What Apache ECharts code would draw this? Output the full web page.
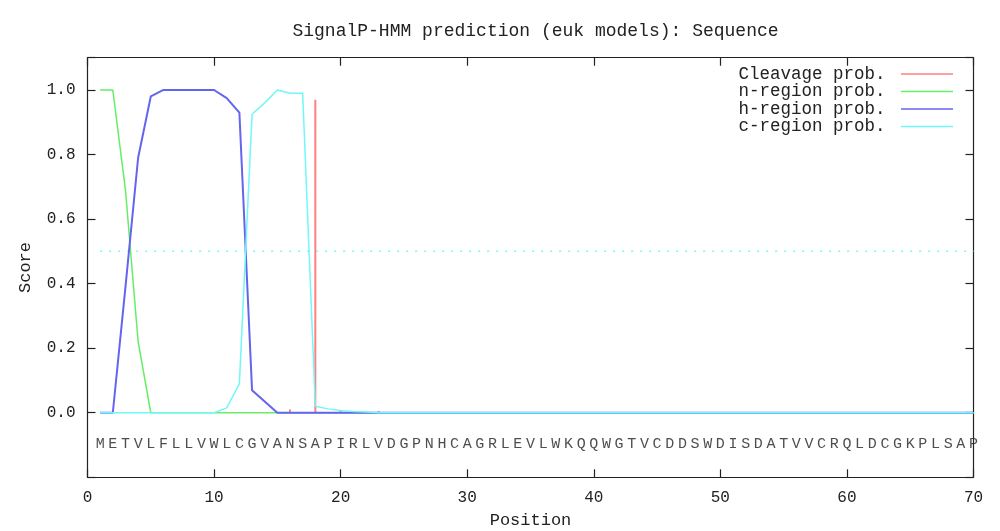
<!DOCTYPE html>
<html>
<head>
<meta charset="utf-8">
<script src="https://cdn.jsdelivr.net/npm/echarts@6/dist/echarts.min.js"></script>
<style>
html,body{margin:0;padding:0;background:#fff;}
#chart{width:1000px;height:531px;}
</style>
</head>
<body>
<div id="chart"></div>
<script>
// ---- data ----
const sequence = "METVLFLLVWLCGVANSAPIRLVDGPNHCAGRLEVLWKQQWGTVCDDSWDISDATVVCRQLDCGKPLSAP".split("");
const positions = sequence.map((_, i) => i + 1);
const cleavageProb = [0,0,0,0,0,0,0,0,0,0,0,0,0,0,0,0.01,0,0.97,0,0.008,0,0,0.005,
  0,0,0,0,0,0,0,0,0,0,0,0,0,0,0,0,0,0,0,0,0,0,0,0,0,0,0,0,0,0,0,0,0,0,0,0,0,0,0,0,0,0,0,0,0,0,0];
const nRegionProb = [1.0,1.0,0.69,0.22,0,0,0,0,0,0,0,0,0,0,0,0,0,0,0,0,0,0,0,
  0,0,0,0,0,0,0,0,0,0,0,0,0,0,0,0,0,0,0,0,0,0,0,0,0,0,0,0,0,0,0,0,0,0,0,0,0,0,0,0,0,0,0,0,0,0,0];
const hRegionProb = [0,0,0.39,0.79,0.98,1.0,1.0,1.0,1.0,1.0,0.975,0.93,0.07,0.035,0,0,0,0,0,0,0,0,0,
  0,0,0,0,0,0,0,0,0,0,0,0,0,0,0,0,0,0,0,0,0,0,0,0,0,0,0,0,0,0,0,0,0,0,0,0,0,0,0,0,0,0,0,0,0,0,0];
const cRegionProb = [0,0,0,0,0,0,0,0,0,0,0.015,0.09,0.925,0.96,1.0,0.99,0.99,0.02,0.012,0.007,0.004,0.002,0,
  0,0,0,0,0,0,0,0,0,0,0,0,0,0,0,0,0,0,0,0,0,0,0,0,0,0,0,0,0,0,0,0,0,0,0,0,0,0,0,0,0,0,0,0,0,0,0];
const thresholdX = [1, 70];
const thresholdY = [0.5, 0.5];
const sequenceRowY = -0.1;
const seriesNames = ["Cleavage prob.", "n-region prob.", "h-region prob.", "c-region prob."];
const titleText = "SignalP-HMM prediction (euk models): Sequence";

// ---- chart ----
const FONT = "Liberation Mono, DejaVu Sans Mono, monospace";
const pairs = (ys) => positions.map((x, i) => [x, ys[i]]);
const axisLineStyle = { color: "#222", width: 1.2 };

const chart = echarts.init(document.getElementById("chart"), null, { renderer: "canvas" });
chart.setOption({
  animation: false,
  backgroundColor: "#fff",
  title: {
    text: titleText, left: 530.5, top: 17, textAlign: "center",
    textStyle: { fontFamily: FONT, fontSize: 18, fontWeight: "normal", color: "#222" }
  },
  legend: {
    data: seriesNames, orient: "vertical", right: 42, top: 60, align: "right",
    icon: "rect", itemWidth: 52, itemHeight: 1.5, itemGap: -0.5,
    formatter: (n) => n + " ",
    textStyle: { fontFamily: FONT, fontSize: 17.5, lineHeight: 17, color: "#222" }
  },
  grid: { left: 87.5, right: 26.5, top: 57.7, bottom: 53.7, containLabel: false, outerBoundsMode: "none" },
  xAxis: [
    { type: "value", min: 0, max: 70, interval: 10, position: "bottom",
      name: "Position", nameLocation: "middle", nameGap: 35,
      nameTextStyle: { fontFamily: FONT, fontSize: 17, color: "#222" },
      axisLine: { show: true, onZero: false, lineStyle: axisLineStyle },
      axisTick: { show: true, inside: true, length: 8, lineStyle: axisLineStyle },
      axisLabel: { fontFamily: FONT, fontSize: 16, color: "#222", margin: 12 },
      splitLine: { show: false } },
    { type: "value", min: 0, max: 70, interval: 10, position: "top",
      axisLine: { show: true, onZero: false, lineStyle: axisLineStyle },
      axisTick: { show: true, inside: true, length: 8, lineStyle: axisLineStyle },
      axisLabel: { show: false }, splitLine: { show: false } }
  ],
  yAxis: [
    { type: "value", min: -0.2, max: 1.1, interval: 0.2, position: "left",
      name: "Score", nameLocation: "middle", nameGap: 54, nameRotate: 90,
      nameTextStyle: { fontFamily: FONT, fontSize: 17, color: "#222" },
      axisLine: { show: true, onZero: false, lineStyle: axisLineStyle },
      axisTick: { show: true, inside: true, length: 8, lineStyle: axisLineStyle },
      axisLabel: { fontFamily: FONT, fontSize: 16, color: "#222", margin: 12,
        formatter: (v) => (v > -0.001 && v < 1.001) ? v.toFixed(1) : "" },
      splitLine: { show: false } },
    { type: "value", min: -0.2, max: 1.1, interval: 0.2, position: "right",
      axisLine: { show: true, onZero: false, lineStyle: axisLineStyle },
      axisTick: { show: true, inside: true, length: 8, lineStyle: axisLineStyle },
      axisLabel: { show: false }, splitLine: { show: false } }
  ],
  series: [
    { name: "threshold", type: "line", data: thresholdX.map((x, i) => [x, thresholdY[i]]),
      showSymbol: false, silent: true,
      lineStyle: { color: "#7ff5f5", width: 1.5, type: [2, 7] } },
    { name: seriesNames[0], type: "bar", data: pairs(cleavageProb), barWidth: 2,
      itemStyle: { color: "#ff8080" } },
    { name: seriesNames[1], type: "line", data: pairs(nRegionProb), showSymbol: false,
      itemStyle: { color: "#66ee66" }, lineStyle: { color: "#66ee66", width: 1.5 } },
    { name: seriesNames[2], type: "line", data: pairs(hRegionProb), showSymbol: false,
      itemStyle: { color: "#6464ee" }, lineStyle: { color: "#6464ee", width: 2 } },
    { name: seriesNames[3], type: "line", data: pairs(cRegionProb), showSymbol: false,
      itemStyle: { color: "#70f8f8" }, lineStyle: { color: "#70f8f8", width: 1.5 } },
    { name: "sequence", type: "scatter", symbolSize: 1, silent: true,
      itemStyle: { color: "rgba(0,0,0,0)" },
      data: positions.map((x) => [x, sequenceRowY]),
      label: { show: true, position: "inside", offset: [0, -1],
        formatter: (p) => sequence[p.dataIndex],
        fontFamily: FONT, fontSize: 15, color: "#222" } }
  ]
});
</script>
</body>
</html>
